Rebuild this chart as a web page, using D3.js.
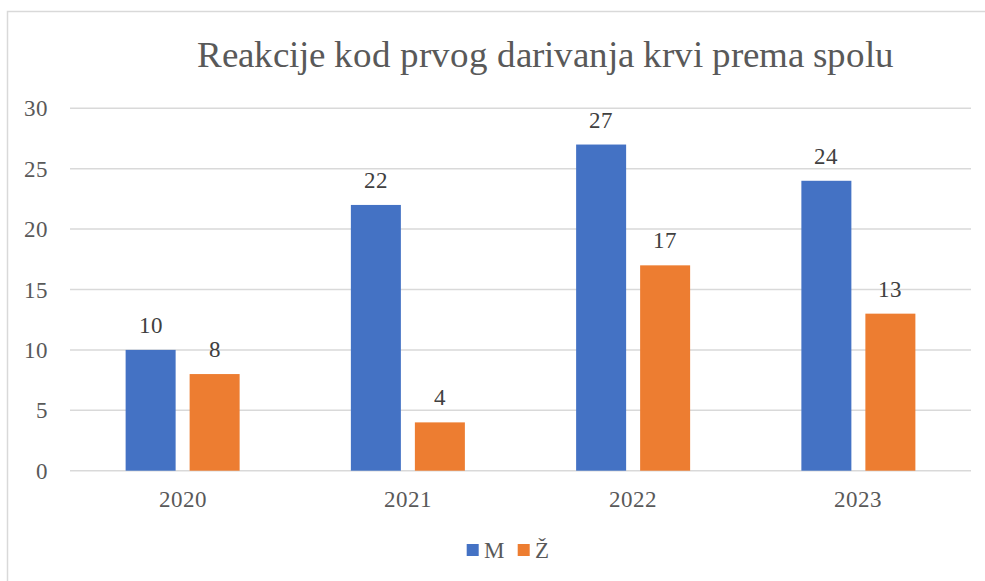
<!DOCTYPE html>
<html>
<head>
<meta charset="utf-8">
<script src="https://cdn.jsdelivr.net/npm/d3@7"></script>
<style>
  @font-face { font-family: "ChartSerif"; src: local("Liberation Serif"), local("LiberationSerif"), local("LiberationSerif-Regular"); }
  body { margin: 0; background: #fff; }
  #chart text { font-family: "ChartSerif", "Liberation Serif", serif; }
</style>
</head>
<body>
<div id="chart"></div>
<script>
var years = ["2020", "2021", "2022", "2023"];
var series = ["M", "Ž"];
var valuesM = [10, 22, 27, 24];
var valuesZ = [8, 4, 17, 13];
var yTicks = [0, 5, 10, 15, 20, 25, 30];
var colors = ["#4472c4", "#ed7d31"];

var W = 985, H = 581;
var plot = {left: 70, right: 971, top: 108.3, bottom: 470.7};

var svg = d3.select("#chart")
    .append("svg")
    .attr("width", W)
    .attr("height", H);

// chart border (cut off on right and bottom)
svg.append("rect")
    .attr("x", 7.5).attr("y", 11.5)
    .attr("width", 1100).attr("height", 700)
    .attr("fill", "none")
    .attr("stroke", "#d9d9d9")
    .attr("stroke-width", 1.5);

var x0 = d3.scaleBand()
    .domain(years)
    .range([plot.left, plot.right])
    .padding(0);

var x1 = d3.scaleBand()
    .domain(series)
    .range([0, x0.bandwidth()])
    .paddingInner(14 / 64)
    .paddingOuter(0.869);

var y = d3.scaleLinear()
    .domain([0, 30])
    .range([plot.bottom, plot.top]);

var bars = [];
years.forEach(function(yr, i) {
    bars.push({year: yr, key: "M", idx: 0, v: valuesM[i]});
    bars.push({year: yr, key: "Ž", idx: 1, v: valuesZ[i]});
});

// gridlines
svg.selectAll("line.grid")
    .data(yTicks)
    .enter()
    .append("line")
        .attr("class", "grid")
        .attr("x1", plot.left)
        .attr("x2", plot.right)
        .attr("y1", d => y(d))
        .attr("y2", d => y(d))
        .attr("stroke", "#d9d9d9")
        .attr("stroke-width", 1.5);

// y labels
svg.selectAll("text.ylab")
    .data(yTicks)
    .enter()
    .append("text")
        .attr("class", "ylab")
        .attr("x", 48)
        .attr("y", d => y(d) + 8)
        .attr("font-size", 23)
        .attr("fill", "#595959")
        .attr("text-anchor", "end")
        .style("font-family", "ChartSerif, 'Liberation Serif', serif")
        .text(d => d);

// x labels
svg.selectAll("text.xlab")
    .data(years)
    .enter()
    .append("text")
        .attr("class", "xlab")
        .attr("x", d => x0(d) + x0.bandwidth() / 2)
        .attr("y", plot.bottom + 36.6)
        .attr("font-size", 23)
        .attr("fill", "#595959")
        .attr("text-anchor", "middle")
        .style("font-family", "ChartSerif, 'Liberation Serif', serif")
        .text(d => d);

// bars
svg.selectAll("rect.bar")
    .data(bars)
    .enter()
    .append("rect")
        .attr("class", "bar")
        .attr("x", d => x0(d.year) + x1(d.key))
        .attr("y", d => y(d.v))
        .attr("width", x1.bandwidth())
        .attr("height", d => y(0) - y(d.v))
        .attr("fill", d => colors[d.idx]);

// data labels
svg.selectAll("text.val")
    .data(bars)
    .enter()
    .append("text")
        .attr("class", "val")
        .attr("x", d => x0(d.year) + x1(d.key) + x1.bandwidth() / 2)
        .attr("y", d => y(d.v) - 17)
        .attr("font-size", 23)
        .attr("fill", "#404040")
        .attr("text-anchor", "middle")
        .style("font-family", "ChartSerif, 'Liberation Serif', serif")
        .text(d => d.v);

// title
svg.append("text")
    .attr("x", 545)
    .attr("y", 67)
    .attr("font-size", 36.5)
    .attr("fill", "#595959")
    .attr("text-anchor", "middle")
    .style("font-family", "ChartSerif, 'Liberation Serif', serif")
    .text("Reakcije kod prvog darivanja krvi prema spolu");

// legend
var legendX = [466.7, 517.7];
svg.selectAll("rect.leg")
    .data(series)
    .enter()
    .append("rect")
        .attr("class", "leg")
        .attr("x", (d, i) => legendX[i])
        .attr("y", 544)
        .attr("width", 12).attr("height", 12)
        .attr("fill", (d, i) => colors[i]);
svg.selectAll("text.leg")
    .data(series)
    .enter()
    .append("text")
        .attr("class", "leg")
        .attr("x", (d, i) => legendX[i] + 17)
        .attr("y", 557.5)
        .attr("font-size", 23)
        .attr("fill", "#595959")
        .style("font-family", "ChartSerif, 'Liberation Serif', serif")
        .text(d => d);
</script>
</body>
</html>
